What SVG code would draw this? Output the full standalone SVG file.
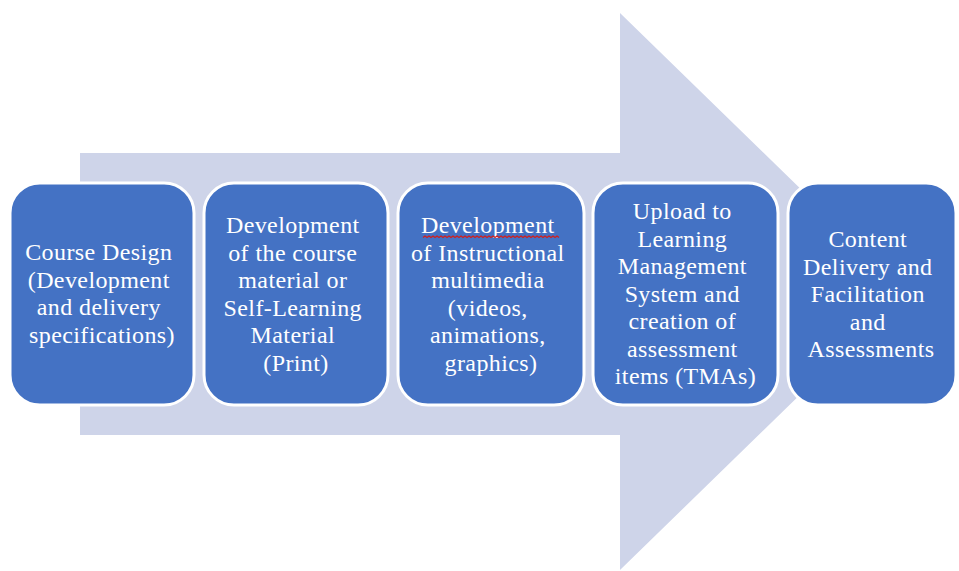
<svg xmlns="http://www.w3.org/2000/svg" width="959" height="571" viewBox="0 0 959 571">
  <style>
    .step { fill: #4472C4; stroke: #FFFFFF; stroke-width: 3; }
    .label { fill: #FFFFFF; font-family: "Liberation Serif", "Times New Roman", serif; font-size: 24px; letter-spacing: 0.4px; text-anchor: middle; }
    .squiggle { fill: none; stroke: #D0201E; stroke-width: 1.3; }
  </style>
  <rect width="959" height="571" fill="#FFFFFF"/>

  <!-- background block arrow -->
  <g id="flow-arrow">
    <polygon points="80,153 620,153 620,13 906,291.5 620,570 620,435 80,435" fill="#CED4E9"/>
  </g>

  <g id="step-course-design">
    <rect class="step" x="10" y="183" width="184" height="222" rx="30" ry="30"/>
    <text class="label">
      <tspan x="102" y="260">Course Design</tspan>
      <tspan x="102" y="287.5">(Development</tspan>
      <tspan x="102" y="315">and delivery</tspan>
      <tspan x="102" y="342.5">specifications)</tspan>
    </text>
  </g>

  <g id="step-course-material">
    <rect class="step" x="204" y="183" width="184" height="222" rx="30" ry="30"/>
    <text class="label">
      <tspan x="296" y="233">Development</tspan>
      <tspan x="296" y="260.5">of the course</tspan>
      <tspan x="296" y="288">material or</tspan>
      <tspan x="296" y="315.5">Self-Learning</tspan>
      <tspan x="296" y="343">Material</tspan>
      <tspan x="296" y="370.5">(Print)</tspan>
    </text>
  </g>

  <g id="step-multimedia">
    <rect class="step" x="398" y="183" width="186" height="222" rx="30" ry="30"/>
    <text class="label">
      <tspan x="491" y="233">Development</tspan>
      <tspan x="491" y="260.5">of Instructional</tspan>
      <tspan x="491" y="288">multimedia</tspan>
      <tspan x="491" y="315.5">(videos,</tspan>
      <tspan x="491" y="343">animations,</tspan>
      <tspan x="491" y="370.5">graphics)</tspan>
    </text>
    <!-- spell-check underline under the first word: 34 zigzag periods of 4px -->
    <path class="squiggle" d="M423 237.5
      l2 -1.5 l2 1.5 l2 -1.5 l2 1.5 l2 -1.5 l2 1.5 l2 -1.5 l2 1.5 l2 -1.5 l2 1.5
      l2 -1.5 l2 1.5 l2 -1.5 l2 1.5 l2 -1.5 l2 1.5 l2 -1.5 l2 1.5 l2 -1.5 l2 1.5
      l2 -1.5 l2 1.5 l2 -1.5 l2 1.5 l2 -1.5 l2 1.5 l2 -1.5 l2 1.5 l2 -1.5 l2 1.5
      l2 -1.5 l2 1.5 l2 -1.5 l2 1.5 l2 -1.5 l2 1.5 l2 -1.5 l2 1.5 l2 -1.5 l2 1.5
      l2 -1.5 l2 1.5 l2 -1.5 l2 1.5 l2 -1.5 l2 1.5 l2 -1.5 l2 1.5 l2 -1.5 l2 1.5
      l2 -1.5 l2 1.5 l2 -1.5 l2 1.5 l2 -1.5 l2 1.5 l2 -1.5 l2 1.5 l2 -1.5 l2 1.5
      l2 -1.5 l2 1.5 l2 -1.5 l2 1.5 l2 -1.5 l2 1.5 l2 -1.5 l2 1.5"/>
  </g>

  <g id="step-lms-upload">
    <rect class="step" x="593" y="183" width="185" height="222" rx="30" ry="30"/>
    <text class="label">
      <tspan x="685.5" y="219">Upload to</tspan>
      <tspan x="685.5" y="246.5">Learning</tspan>
      <tspan x="685.5" y="274">Management</tspan>
      <tspan x="685.5" y="301.5">System and</tspan>
      <tspan x="685.5" y="329">creation of</tspan>
      <tspan x="685.5" y="356.5">assessment</tspan>
      <tspan x="685.5" y="384">items (TMAs)</tspan>
    </text>
  </g>

  <g id="step-delivery">
    <rect class="step" x="788" y="183" width="168" height="222" rx="30" ry="30"/>
    <text class="label">
      <tspan x="871" y="247">Content</tspan>
      <tspan x="871" y="274.5">Delivery and</tspan>
      <tspan x="871" y="302">Facilitation</tspan>
      <tspan x="871" y="329.5">and</tspan>
      <tspan x="871" y="357">Assessments</tspan>
    </text>
  </g>
</svg>
